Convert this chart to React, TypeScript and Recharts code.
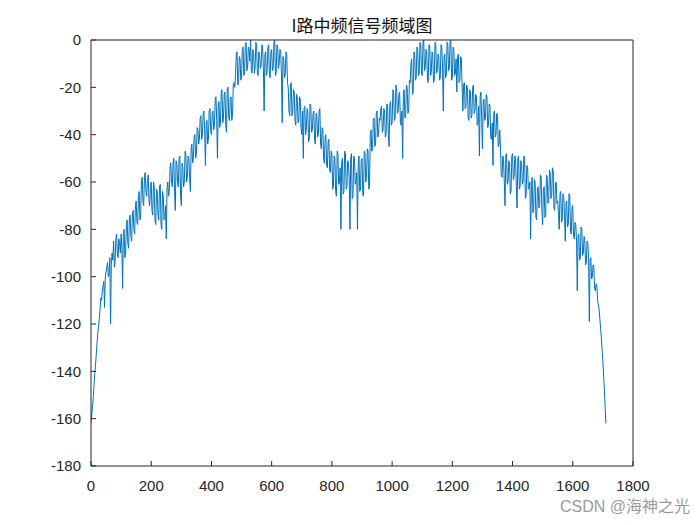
import React from 'react';
import { LineChart, Line, XAxis, YAxis } from 'recharts';

// sample spacing of the frequency-bin axis (bins)
const STEP = 5;

// magnitude (dB) at bins 0, 5, 10, ... 1710
const magnitudeDb: number[] = [
  // 0 - 95
  -162, -155, -146, -137, -128, -121, -114, -110, -104, -113, -98, -94, -99, -120, -90, -85, -94, -82, -92, -86,
  // 100 - 195
  -82, -105, -80, -90, -76, -88, -74, -85, -72, -82, -68, -78, -64, -74, -58, -70, -56, -66, -57, -70,
  // 200 - 295
  -60, -74, -62, -78, -64, -76, -61, -80, -66, -75, -84, -60, -64, -52, -62, -50, -72, -52, -62, -49,
  // 300 - 395
  -70, -54, -60, -48, -58, -50, -64, -44, -50, -40, -48, -38, -42, -32, -40, -30, -53, -34, -42, -29,
  // 400 - 495
  -40, -30, -36, -24, -50, -26, -35, -21, -33, -22, -39, -20, -34, -24, -32, -18, -15, -5, -18, -8,
  // 500 - 595
  -16, -3, -14, -1, -12, -4, 0, -14, -5, -12, -2, -15, -6, -11, -3, -30, -5, -13, -2, -16,
  // 600 - 695
  -4, -12, 0, -14, -3, -10, -5, -35, -8, -15, -6, -20, -32, -18, -30, -22, -36, -24, -34, -25,
  // 700 - 795
  -40, -50, -28, -38, -30, -42, -28, -38, -30, -44, -32, -40, -29, -46, -38, -52, -40, -54, -42, -56,
  // 800 - 895
  -48, -62, -50, -66, -48, -60, -80, -50, -64, -48, -62, -52, -80, -48, -66, -50, -60, -80, -49, -63,
  // 900 - 995
  -50, -66, -48, -58, -47, -62, -38, -46, -33, -44, -30, -40, -34, -28, -38, -30, -40, -28, -45, -26,
  // 1000 - 1095
  -35, -22, -33, -20, -30, -22, -36, -50, -21, -32, -20, -30, -18, -8, -22, -6, -16, -4, -14, -2,
  // 1100 - 1195
  -15, 0, -12, -5, -18, -3, -14, -6, -17, -2, -13, -7, -16, -3, -30, -6, -15, -2, -12, 0,
  // 1200 - 1295
  -16, -4, -14, -22, -6, -17, -8, -30, -18, -28, -20, -34, -22, -32, -19, -30, -24, -35, -49, -22,
  // 1300 - 1395
  -46, -25, -33, -24, -36, -28, -42, -53, -30, -40, -32, -44, -46, -58, -50, -70, -48, -60, -52, -64,
  // 1400 - 1495
  -48, -58, -50, -71, -49, -62, -52, -60, -50, -66, -54, -62, -84, -58, -72, -60, -76, -62, -70, -58,
  // 1500 - 1595
  -78, -62, -74, -58, -68, -56, -66, -55, -72, -60, -68, -80, -64, -76, -66, -85, -68, -78, -66, -82,
  // 1600 - 1695
  -70, -84, -78, -106, -82, -92, -80, -90, -84, -94, -86, -119, -92, -100, -96, -106, -104, -112, -118, -126,
  // 1700 - 1710
  -136, -148, -162,
];

// magnitude (dB) at the in-between bins 2.5, 7.5, ... 1707.5
const magnitudeDbMid: number[] = [
  // 2.5 - 97.5
  -158, -151, -141, -133, -124, -118, -109, -106, -102, -100, -96, -100, -92, -95, -93, -96, -84, -90, -84, -90,
  // 102.5 - 197.5
  -88, -81, -92, -78, -86, -75, -83, -74, -80, -70, -77, -66, -76, -60, -68, -58, -64, -59, -68, -62,
  // 202.5 - 297.5
  -72, -60, -76, -63, -74, -62, -78, -64, -76, -70, -63, -66, -54, -60, -52, -64, -51, -60, -50, -66,
  // 302.5 - 397.5
  -52, -62, -47, -60, -49, -58, -46, -52, -41, -50, -37, -44, -33, -42, -31, -38, -36, -44, -30, -38,
  // 402.5 - 497.5
  -31, -38, -25, -34, -28, -37, -22, -35, -23, -36, -21, -33, -25, -34, -19, -20, -6, -19, -7, -17,
  // 502.5 - 597.5
  -4, -15, -2, -13, -3, -9, -13, -4, -14, -1, -14, -5, -12, -2, -12, -6, -15, -3, -15, -5,
  // 602.5 - 697.5
  -13, -1, -15, -2, -12, -4, -14, -7, -16, -5, -18, -30, -19, -32, -21, -34, -23, -35, -24, -37,
  // 702.5 - 797.5
  -30, -29, -40, -29, -43, -27, -39, -31, -42, -31, -41, -30, -44, -37, -50, -41, -53, -43, -55, -47,
  // 802.5 - 897.5
  -63, -49, -64, -47, -61, -54, -52, -65, -47, -63, -51, -58, -50, -67, -49, -61, -56, -52, -64, -51,
  // 902.5 - 997.5
  -65, -47, -60, -46, -63, -40, -47, -34, -45, -31, -41, -33, -29, -39, -29, -41, -27, -40, -27, -36,
  // 1002.5 - 1097.5
  -21, -34, -19, -31, -23, -35, -30, -22, -33, -19, -31, -17, -10, -23, -5, -17, -3, -15, -1, -14,
  // 1102.5 - 1197.5
  -1, -13, -4, -17, -2, -15, -5, -18, -1, -14, -6, -17, -2, -12, -7, -16, -1, -13, -1, -17,
  // 1202.5 - 1297.5
  -3, -15, -8, -7, -18, -7, -20, -19, -29, -19, -33, -21, -33, -20, -31, -23, -36, -28, -24, -33,
  // 1302.5 - 1397.5
  -27, -34, -23, -37, -27, -41, -35, -31, -41, -31, -45, -38, -57, -49, -60, -49, -61, -51, -65, -49,
  // 1402.5 - 1497.5
  -59, -49, -62, -50, -63, -51, -61, -49, -67, -53, -63, -60, -62, -73, -59, -75, -63, -71, -57, -72,
  // 1502.5 - 1597.5
  -63, -75, -57, -69, -55, -67, -54, -71, -61, -69, -74, -65, -77, -65, -74, -69, -79, -65, -81, -71,
  // 1602.5 - 1697.5
  -83, -77, -85, -83, -93, -79, -91, -83, -95, -85, -92, -93, -101, -95, -105, -103, -110, -114, -122, -131,
  // 1702.5 - 1707.5
  -142, -155,
];

const xTicks = [0, 200, 400, 600, 800, 1000, 1200, 1400, 1600, 1800];
const yTicks = [-180, -160, -140, -120, -100, -80, -60, -40, -20, 0];

const chartTitle = 'I路中频信号频域图';
const watermark = 'CSDN @海神之光';

const data: { bin: number; mag: number }[] = [];
magnitudeDb.forEach((v, i) => {
  data.push({ bin: i * STEP, mag: v });
  if (i < magnitudeDbMid.length) data.push({ bin: i * STEP + STEP / 2, mag: magnitudeDbMid[i] });
});

const AXIS = '#262626';
const tickFont = { fontFamily: '"Liberation Sans", Arial, sans-serif', fontSize: 15, fill: AXIS };

export default function App() {
  return (
    <div style={{ position: 'absolute', left: 0, top: 0, width: 700, height: 525, background: '#ffffff' }}>
      <LineChart width={700} height={525} data={data} margin={{ top: 39, right: 66, bottom: 29, left: 31 }}>
        <XAxis
          xAxisId="b"
          type="number"
          dataKey="bin"
          domain={[0, 1800]}
          ticks={xTicks}
          allowDataOverflow
          height={30}
          stroke={AXIS}
          tickSize={-5}
          tickMargin={19}
          tick={tickFont}
          tickLine={{ stroke: AXIS }}
          axisLine={{ stroke: AXIS }}
        />
        <XAxis
          xAxisId="t"
          orientation="top"
          type="number"
          dataKey="bin"
          domain={[0, 1800]}
          ticks={xTicks}
          allowDataOverflow
          height={1}
          stroke={AXIS}
          tickSize={-5}
          tick={false}
          tickLine={{ stroke: AXIS }}
          axisLine={{ stroke: AXIS }}
        />
        <YAxis
          yAxisId="l"
          type="number"
          domain={[-180, 0]}
          ticks={yTicks}
          allowDataOverflow
          width={60}
          stroke={AXIS}
          tickSize={-5}
          tickMargin={15}
          tick={tickFont}
          tickLine={{ stroke: AXIS }}
          axisLine={{ stroke: AXIS }}
        />
        <YAxis
          yAxisId="r"
          orientation="right"
          type="number"
          domain={[-180, 0]}
          ticks={yTicks}
          allowDataOverflow
          width={1}
          stroke={AXIS}
          tickSize={-5}
          tick={false}
          tickLine={{ stroke: AXIS }}
          axisLine={{ stroke: AXIS }}
        />
        <Line
          xAxisId="b"
          yAxisId="l"
          type="linear"
          dataKey="mag"
          stroke="#0072BD"
          strokeWidth={1}
          dot={false}
          activeDot={false}
          isAnimationActive={false}
        />
      </LineChart>
      <div
        style={{
          position: 'absolute',
          left: 91,
          top: 14,
          width: 542,
          textAlign: 'center',
          fontFamily: '"Noto Sans CJK SC", sans-serif',
          fontSize: 17,
          lineHeight: '22px',
          color: '#111',
        }}
      >
        {chartTitle}
      </div>
      <div
        style={{
          position: 'absolute',
          left: 540,
          top: 497,
          width: 150,
          textAlign: 'right',
          fontFamily: '"Liberation Sans", "Noto Sans CJK SC", sans-serif',
          fontSize: 16,
          lineHeight: '20px',
          color: '#9a9a9a',
          whiteSpace: 'nowrap',
        }}
      >
        {watermark}
      </div>
    </div>
  );
}
